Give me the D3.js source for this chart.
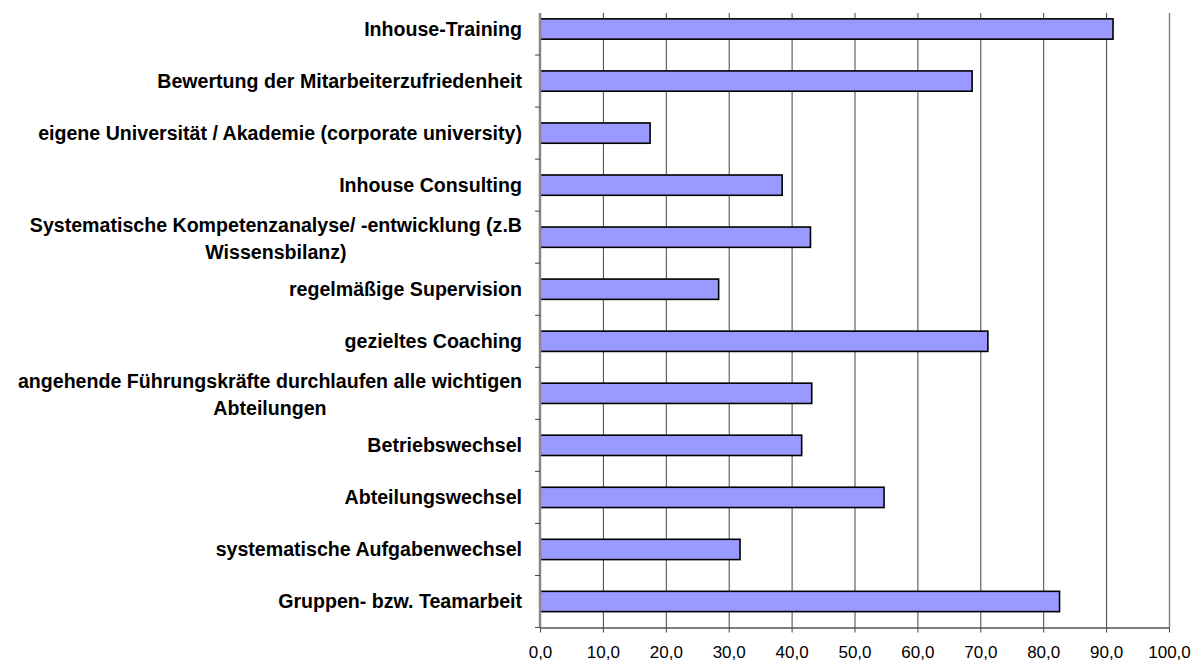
<!DOCTYPE html>
<html>
<head>
<meta charset="utf-8">
<script src="https://cdn.jsdelivr.net/npm/d3@7"></script>
<style>
  body { margin: 0; background: #fff; }
  text { font-family: "Liberation Sans", Arial, sans-serif; }
</style>
</head>
<body>
<script>
// categories top to bottom, "\n" marks a line break in the label
var categories = [
  "Inhouse-Training",
  "Bewertung der Mitarbeiterzufriedenheit",
  "eigene Universität / Akademie (corporate university)",
  "Inhouse Consulting",
  "Systematische Kompetenzanalyse/ -entwicklung (z.B\nWissensbilanz)",
  "regelmäßige Supervision",
  "gezieltes Coaching",
  "angehende Führungskräfte durchlaufen alle wichtigen\nAbteilungen",
  "Betriebswechsel",
  "Abteilungswechsel",
  "systematische Aufgabenwechsel",
  "Gruppen- bzw. Teamarbeit"
];
var values = [91.1, 68.7, 17.5, 38.5, 43.0, 28.4, 71.2, 43.2, 41.6, 54.7, 31.8, 82.6];
var xTicks = [0, 10, 20, 30, 40, 50, 60, 70, 80, 90, 100];

var width = 1200, height = 661;
// note: "top" is a reserved window property, so plotTop etc.
var plotLeft = 540, plotRight = 1169, plotTop = 3, plotBottom = 627.5, gridTop = 13;

var svg = d3.select("body").append("svg")
    .attr("width", width)
    .attr("height", height);

var x = d3.scaleLinear().domain([0, 100]).range([plotLeft, plotRight]);
var y = d3.scaleBand().domain(d3.range(categories.length)).range([plotTop, plotBottom]).padding(0);
var barH = y.bandwidth() * 0.39;

var fmt = function(v) { return d3.format(".1f")(v).replace(".", ","); };

// vertical gridlines
svg.append("g").selectAll("line")
    .data(xTicks.slice(1))
  .enter().append("line")
    .attr("x1", function(d) { return x(d) + 0.5; })
    .attr("x2", function(d) { return x(d) + 0.5; })
    .attr("y1", gridTop)
    .attr("y2", plotBottom)
    .attr("stroke", function(d) { return d == 100 ? "#888" : "#444"; })
    .attr("stroke-width", function(d) { return d == 100 ? 1.5 : 1; });

// bars
svg.append("g").selectAll("rect")
    .data(values)
  .enter().append("rect")
    .attr("x", x(0))
    .attr("y", function(d, i) { return y(i) + (y.bandwidth() - barH) / 2; })
    .attr("width", function(d) { return x(d) - x(0); })
    .attr("height", barH)
    .attr("fill", "#9999ff")
    .attr("stroke", "#000")
    .attr("stroke-width", 1.6);

// x axis
var xAxis = svg.append("g")
    .attr("transform", "translate(0," + plotBottom + ")")
    .call(d3.axisBottom(x).tickValues(xTicks).tickSize(5).tickSizeOuter(0).tickFormat(fmt));
xAxis.select(".domain").attr("stroke", "#555").attr("stroke-width", 1.5);
xAxis.selectAll(".tick line").attr("stroke", "#444");
xAxis.selectAll(".tick text")
    .attr("y", 18)
    .attr("dy", "0.71em")
    .style("font-family", "'Liberation Sans', Arial, sans-serif")
    .style("font-size", "17px")
    .attr("fill", "#000");

// y axis line and ticks between categories
svg.append("line")
    .attr("x1", plotLeft).attr("x2", plotLeft)
    .attr("y1", gridTop).attr("y2", plotBottom)
    .attr("stroke", "#888")
    .attr("stroke-width", 2.5);

svg.append("g").selectAll("line")
    .data(d3.range(1, categories.length + 1))
  .enter().append("line")
    .attr("x1", plotLeft - 5)
    .attr("x2", plotLeft)
    .attr("y1", function(i) { return i < categories.length ? y(i) : plotBottom; })
    .attr("y2", function(i) { return i < categories.length ? y(i) : plotBottom; })
    .attr("stroke", "#444");

// category labels, multi-line ones centred on each other
var lineH = 27;
var labels = svg.append("g").selectAll("text")
    .data(categories)
  .enter().append("text")
    .style("font-size", "19.6px")
    .style("font-weight", "bold")
    .attr("fill", "#000");

labels.each(function(d, i) {
  var t = d3.select(this);
  var lines = d.split("\n");
  var cy = y(i) + y.bandwidth() / 2 + (lines.length > 1 ? 1 : 0);
  lines.forEach(function(s, k) {
    t.append("tspan")
      .attr("y", cy + (k - (lines.length - 1) / 2) * lineH)
      .attr("dy", "0.35em")
      .text(s);
  });
  var maxW = 0;
  t.selectAll("tspan").each(function() { maxW = Math.max(maxW, this.getComputedTextLength()); });
  var labelRight = plotLeft - 18;
  t.selectAll("tspan")
    .attr("text-anchor", "middle")
    .attr("x", labelRight - maxW / 2);
});
</script>
</body>
</html>
